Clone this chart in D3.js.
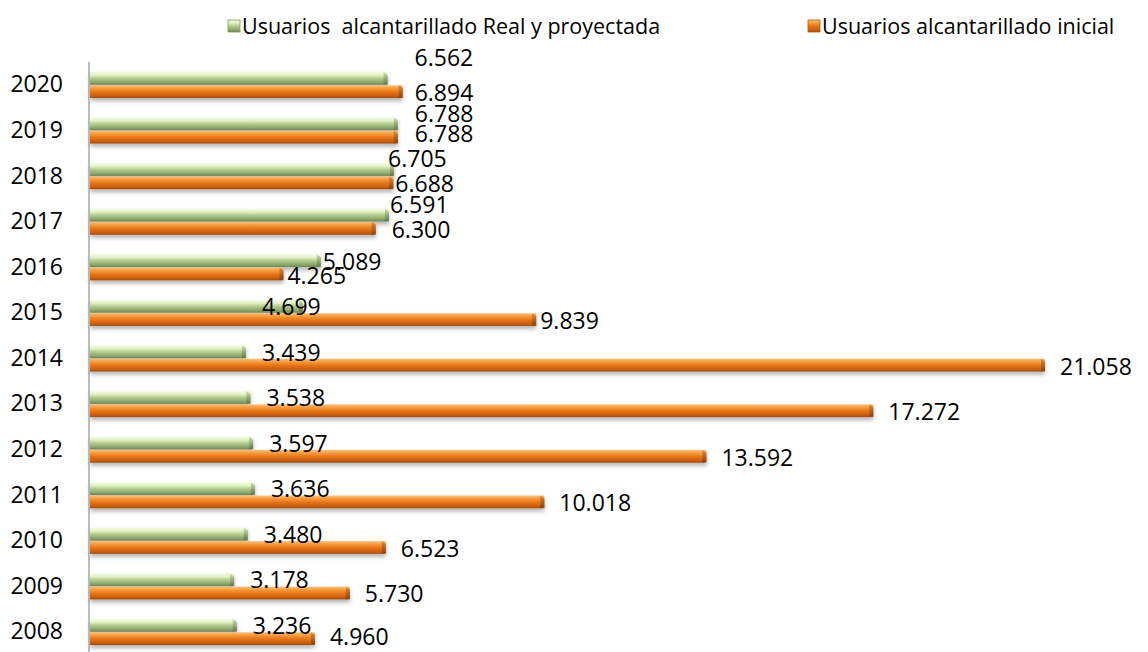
<!DOCTYPE html>
<html>
<head>
<meta charset="utf-8">
<script src="https://cdn.jsdelivr.net/npm/d3@7"></script>
<style>
  body { margin: 0; background: #fff; }
  text { font-family: "Open Sans", sans-serif; fill: #000; }
</style>
</head>
<body>
<div id="chart"></div>
<script>
const years = [2008, 2009, 2010, 2011, 2012, 2013, 2014, 2015, 2016, 2017, 2018, 2019, 2020];
const realProyectada = [3236, 3178, 3480, 3636, 3597, 3538, 3439, 4699, 5089, 6591, 6705, 6788, 6562];
const inicial = [4960, 5730, 6523, 10018, 13592, 17272, 21058, 9839, 4265, 6300, 6688, 6788, 6894];
const seriesNames = ["Usuarios  alcantarillado Real y proyectada", "Usuarios alcantarillado inicial"];

const width = 1148, height = 652;

// label nudges (dx, dy) relative to the default spot, where the original moved them
const labelShift = {
  2020: { g: [11, -21], o: [-3, 0] },
  2019: { g: [1, -11], o: [2, -5] },
  2018: { g: [-22, -11], o: [-13, 0] },
  2017: { g: [-15, -11], o: [1, 0] },
  2016: { g: [-14, 1], o: [-11, 1] },
  2015: { g: [-57, 0], o: [-11, 0] },
  2008: { g: [0, 0], o: [0, -3] },
};

const fmt = d3.formatLocale({ decimal: ",", thousands: ".", grouping: [3] }).format(",");

const rows = years.map((y, i) => ({ year: y, g: realProyectada[i], o: inicial[i] }));

const svg = d3.select("#chart").append("svg")
  .attr("width", width)
  .attr("height", height);

const defs = svg.append("defs");

function grad(id, stops) {
  const lg = defs.append("linearGradient").attr("id", id)
    .attr("x1", 0).attr("y1", 0).attr("x2", 0).attr("y2", 1);
  stops.forEach(([o, c]) => lg.append("stop").attr("offset", o).attr("stop-color", c));
}
grad("gGreen", [[0, "#f3fbe4"], [0.25, "#e2f2c6"], [0.5, "#b4cc8e"], [0.8, "#8fa86e"], [1, "#6e8652"]]);
grad("gOrange", [[0, "#fbc07a"], [0.25, "#f59a3c"], [0.55, "#e57316"], [0.85, "#c65d10"], [1, "#9e4a0c"]]);
grad("gGreenCap", [[0, "#cfe0b0"], [1, "#5e7544"]]);
grad("gOrangeCap", [[0, "#e08a3a"], [1, "#8a3f0a"]]);

const shadow = defs.append("filter").attr("id", "shadow")
  .attr("x", "-5%").attr("y", "-50%").attr("width", "110%").attr("height", "220%");
shadow.append("feDropShadow")
  .attr("dx", 0).attr("dy", 3).attr("stdDeviation", 2)
  .attr("flood-color", "#000").attr("flood-opacity", 0.3);

const x = d3.scaleLinear().domain([0, 21058]).range([90, 1045]);
const y = d3.scaleBand()
  .domain(years.slice().reverse())
  .range([62.2, 654.8])
  .paddingInner(0.43)
  .paddingOuter(0.215);
const sub = d3.scaleBand().domain(["g", "o"]).range([0, y.bandwidth()]).paddingInner(0.04);

const fills = { g: "url(#gGreen)", o: "url(#gOrange)" };
const caps = { g: "url(#gGreenCap)", o: "url(#gOrangeCap)" };

const plot = svg.append("g");

const groups = plot.selectAll("g.year")
  .data(rows)
  .join("g")
  .attr("class", "year")
  .attr("transform", d => `translate(0,${y(d.year)})`);

["g", "o"].forEach(k => {
  const bar = groups.append("g").attr("filter", "url(#shadow)");
  const h = sub.bandwidth();
  bar.append("rect")
    .attr("x", x(0))
    .attr("y", sub(k))
    .attr("width", d => x(d[k]) - x(0))
    .attr("height", h)
    .attr("fill", fills[k]);
  bar.append("path")
    .attr("d", d => {
      const e = x(d[k]), t = sub(k), b = t + h;
      return `M${e - 4},${t}L${e},${t + 3}L${e},${b - 1}L${e - 4},${b}Z`;
    })
    .attr("fill", caps[k]);
});

// value labels
const cy = y.bandwidth() / 2;
groups.append("text")
  .attr("x", d => x(d.g) + 16 + (labelShift[d.year] ? labelShift[d.year].g[0] : 0))
  .attr("y", d => cy - 6 + (labelShift[d.year] ? labelShift[d.year].g[1] : 0))
  .attr("dy", "0.35em")
  .attr("font-size", 23)
  .text(d => fmt(d.g));
groups.append("text")
  .attr("x", d => x(d.o) + 15 + (labelShift[d.year] ? labelShift[d.year].o[0] : 0))
  .attr("y", d => cy + 8 + (labelShift[d.year] ? labelShift[d.year].o[1] : 0))
  .attr("dy", "0.35em")
  .attr("font-size", 23)
  .text(d => fmt(d.o));

// y axis
const yAxis = svg.append("g")
  .attr("transform", `translate(${x(0) - 1},0)`)
  .call(d3.axisLeft(y).tickSize(0).tickPadding(26));
yAxis.select(".domain").attr("stroke", "#a6a6a6").attr("stroke-width", 1.5)
  .attr("d", `M0,62V${height}`);
yAxis.selectAll(".tick text")
  .attr("font-size", 23)
  .attr("font-family", "'Open Sans', sans-serif")
  .attr("fill", "#000");

// legend
const legend = svg.append("g").attr("transform", "translate(0,26)");
const legendItems = [
  { name: seriesNames[0], k: "g", x: 228 },
  { name: seriesNames[1], k: "o", x: 808 },
];
const li = legend.selectAll("g").data(legendItems).join("g")
  .attr("transform", d => `translate(${d.x},0)`);
li.append("rect")
  .attr("x", 0).attr("y", -6).attr("width", 12).attr("height", 12)
  .attr("fill", d => fills[d.k])
  .attr("stroke", d => d.k === "g" ? "#7d9a5c" : "#b85a10")
  .attr("stroke-width", 0.8);
li.append("text")
  .attr("x", 14)
  .attr("dy", "0.35em")
  .attr("font-size", 21.5)
  .attr("xml:space", "preserve")
  .style("white-space", "pre")
  .text(d => d.name);
</script>
</body>
</html>
